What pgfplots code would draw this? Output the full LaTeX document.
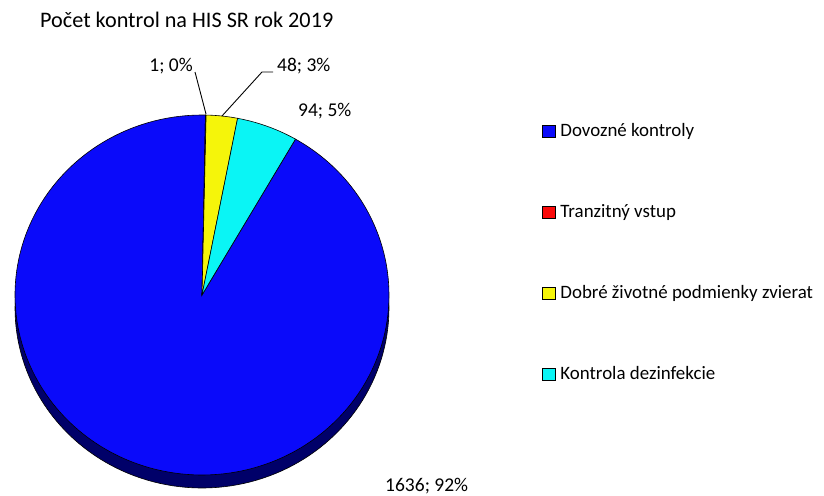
\documentclass[border=0pt]{standalone}
\usepackage{pgfplots}
\usepackage{pgfplotstable}
\usepackage{fontspec}
\setmainfont{Carlito}
\pgfplotsset{compat=1.18}
\definecolor{cblue}{RGB}{10,10,250}
\definecolor{cred}{RGB}{250,10,10}
\definecolor{cyel}{RGB}{245,245,10}
\definecolor{ccyan}{RGB}{10,245,245}
\definecolor{cside}{RGB}{0,0,105}

\pgfplotstableread{
label value
Dovozne 1636
Tranzit 1
Dobre 48
Kontrola 94
}\piedata

\pgfplotstablegetelem{0}{value}\of\piedata \let\va\pgfplotsretval
\pgfplotstablegetelem{1}{value}\of\piedata \let\vb\pgfplotsretval
\pgfplotstablegetelem{2}{value}\of\piedata \let\vc\pgfplotsretval
\pgfplotstablegetelem{3}{value}\of\piedata \let\vd\pgfplotsretval
\pgfmathsetmacro{\tot}{\va+\vb+\vc+\vd}
\pgfmathsetmacro{\aA}{30}
\pgfmathsetmacro{\aB}{\aA+(\va/\tot)*360}
\pgfmathsetmacro{\aC}{\aB+(\vb/\tot)*360}
\pgfmathsetmacro{\aD}{\aC+(\vc/\tot)*360}
\pgfmathsetmacro{\aE}{\aD+(\vd/\tot)*360}

\def\cx{202}
\def\cy{295}
\def\rx{187}
\def\ry{180}

\begin{document}
\fontsize{19.5}{23}\selectfont
\begin{tikzpicture}
\begin{axis}[
  scale only axis, width=824pt, height=495pt,
  xmin=0, xmax=824, ymin=0, ymax=495, y dir=reverse,
  hide axis, clip=false,
  legend style={at={(axis cs:542,121)}, anchor=north west, draw=none, fill=none,
    font=\fontsize{18.9}{22}\selectfont, row sep=61pt, inner sep=0pt,
    cells={anchor=west}},
  legend image code/.code={\draw[#1, draw=black, line width=0.9pt] (0pt,-6pt) rectangle (13pt,6pt); \path (15.5pt,0pt);},
]
% page frame (invisible)
\addplot[forget plot, draw=none] coordinates {(0,0) (824,495)};
% side of the pie
\addplot[forget plot, domain=0:360, samples=180, fill=cside, draw=black, line width=0.6pt]
  ({\cx+\rx*sin(x)}, {\cy+13-\ry*cos(x)}) -- cycle;
% slices
\addplot[domain=\aA:\aB, samples=200, fill=cblue, draw=black, line width=0.6pt]
  ({\cx+\rx*sin(x)}, {\cy-\ry*cos(x)}) -- (axis cs:\cx,\cy) -- cycle;
\addlegendentry{Dovozné kontroly}
\addplot[domain=\aB:\aC, samples=3, fill=cred, draw=black, line width=0.6pt]
  ({\cx+\rx*sin(x)}, {\cy-\ry*cos(x)}) -- (axis cs:\cx,\cy) -- cycle;
\addlegendentry{Tranzitný vstup}
\addplot[domain=\aC:\aD, samples=20, fill=cyel, draw=black, line width=0.6pt]
  ({\cx+\rx*sin(x)}, {\cy-\ry*cos(x)}) -- (axis cs:\cx,\cy) -- cycle;
\addlegendentry{Dobré životné podmienky zvierat}
\addplot[domain=\aD:\aE, samples=30, fill=ccyan, draw=black, line width=0.6pt]
  ({\cx+\rx*sin(x)}, {\cy-\ry*cos(x)}) -- (axis cs:\cx,\cy) -- cycle;
\addlegendentry{Kontrola dezinfekcie}
% leader lines
\addplot[forget plot, black, line width=0.9pt] coordinates {(195,72) (206,114)};
\addplot[forget plot, black, line width=0.9pt] coordinates {(222,116) (262,72) (273,72)};
% labels
\node[anchor=west, inner sep=0pt] at (axis cs:40,20) {\fontsize{22.2}{26}\selectfont Počet kontrol na HIS SR rok 2019};
\node[anchor=east, inner sep=0pt] at (axis cs:193,66) {1; 0\%};
\node[anchor=west, inner sep=0pt] at (axis cs:277,66) {48; 3\%};
\node[anchor=west, inner sep=0pt] at (axis cs:298,111) {94; 5\%};
\node[anchor=west, inner sep=0pt] at (axis cs:385,486) {1636; 92\%};
\end{axis}
\end{tikzpicture}
\end{document}
